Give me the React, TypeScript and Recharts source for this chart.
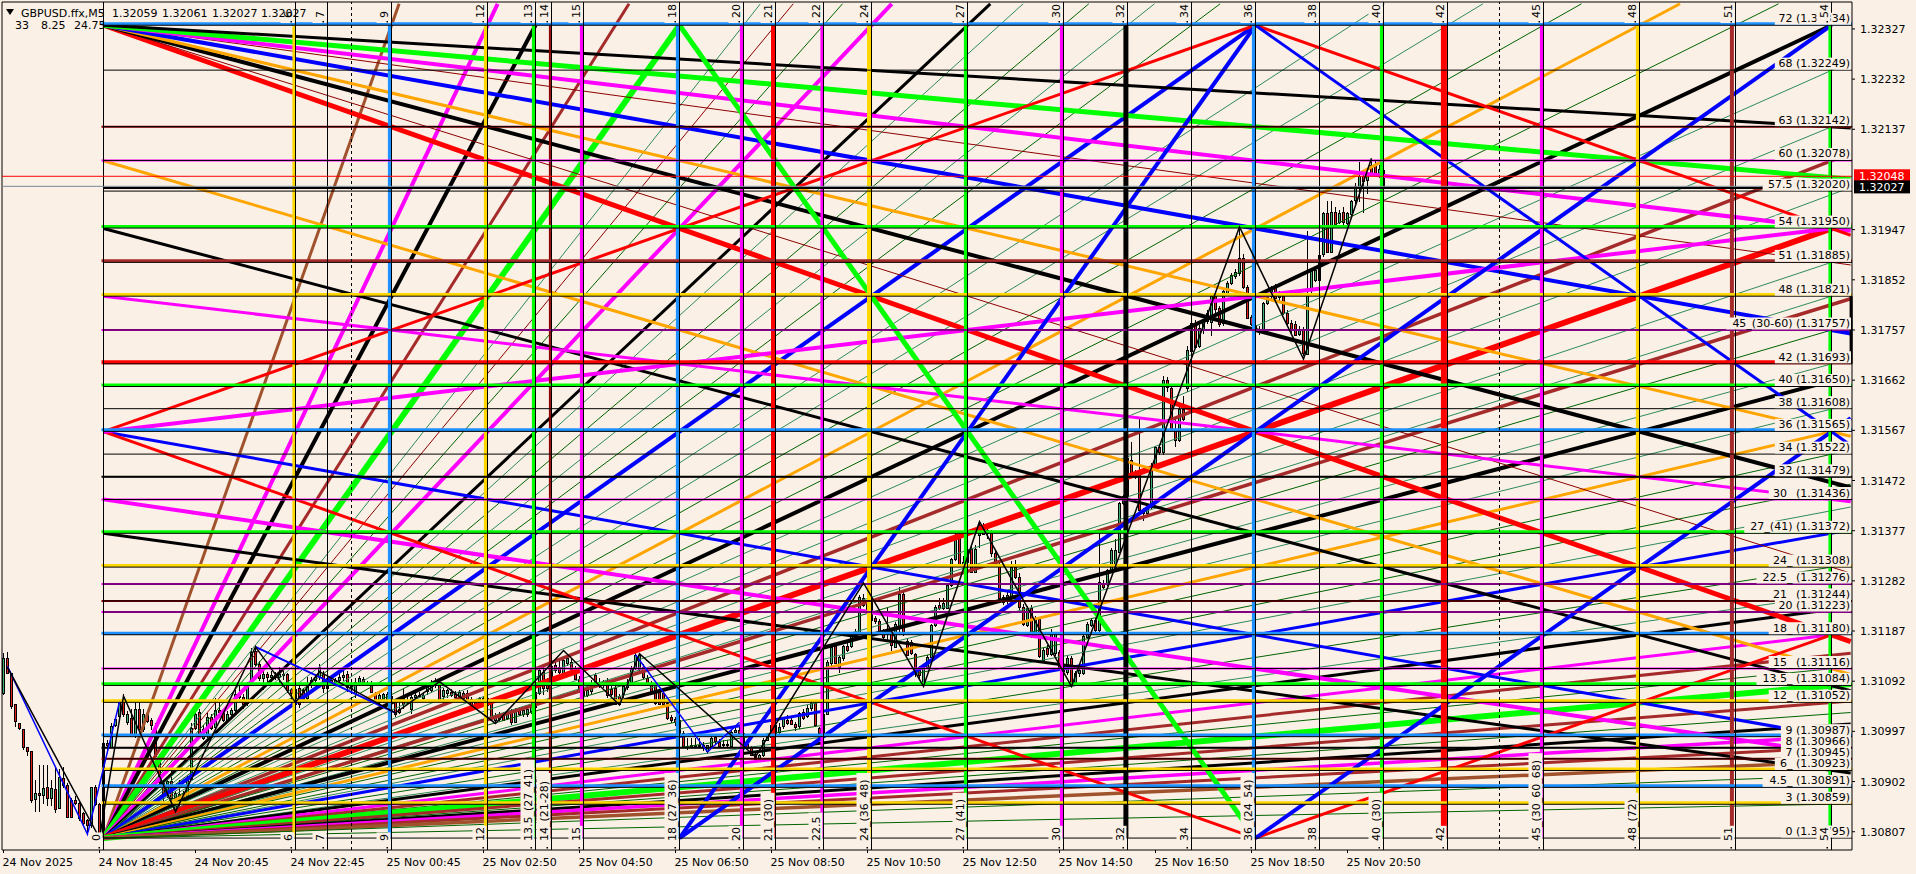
import React from 'react';
import { ComposedChart, Bar, Line, XAxis, YAxis, ReferenceLine } from 'recharts';

const FONT = '"DejaVu Sans", sans-serif';
const PAPER = '#FAF0E6';
const BLUE = '#0000FF';
const DODGER = '#1E90FF';
const LIME = '#00FF00';
const MAGENTA = '#FF00FF';
const GOLD = '#FFD700';
const ORANGE = '#FFA500';
const RED = '#FF0000';
const DARKRED = '#8B0000';
const BROWN = '#A52A2A';
const SIENNA = '#A0522D';
const GREEN = '#006400';
const SEA = '#2E8B57';
const BLACK = '#000000';

// prices below are stored as points above 1.30000
const timeLabels = ['24 Nov 2025', '24 Nov 18:45', '24 Nov 20:45', '24 Nov 22:45', '25 Nov 00:45', '25 Nov 02:50', '25 Nov 04:50', '25 Nov 06:50', '25 Nov 08:50', '25 Nov 10:50', '25 Nov 12:50', '25 Nov 14:50', '25 Nov 16:50', '25 Nov 18:50', '25 Nov 20:50'];
const timeTicks = [0, 24, 48, 72, 96, 120, 144, 168, 192, 216, 240, 264, 288, 312, 336];
const priceTicks = [2327, 2232, 2137, 1947, 1852, 1757, 1662, 1567, 1472, 1377, 1282, 1187, 1092, 997, 902, 807];

// [label, points, colour, width]
const levels: [string, number, string, number][] = [
  ['72 (1.32334)', 2334, DODGER, 3], ['68 (1.32249)', 2249, '', 0], ['63 (1.32142)', 2142, DARKRED, 2],
  ['60 (1.32078)', 2078, MAGENTA, 2], ['57.5 (1.32020)', 2020, '', 0], ['54 (1.31950)', 1950, LIME, 3],
  ['51 (1.31885)', 1885, BROWN, 3], ['48 (1.31821)', 1821, GOLD, 3], ['45_(30-60) (1.31757)', 1757, MAGENTA, 2],
  ['42 (1.31693)', 1693, RED, 4], ['40 (1.31650)', 1650, LIME, 3], ['38 (1.31608)', 1608, '', 0],
  ['36 (1.31565)', 1565, DODGER, 3], ['34 (1.31522)', 1522, '', 0], ['32 (1.31479)', 1479, BLACK, 2],
  ['30_ (1.31436)', 1436, MAGENTA, 2], ['27_(41) (1.31372)', 1372, LIME, 3], ['24_ (1.31308)', 1308, GOLD, 3],
  ['22.5_ (1.31276)', 1276, MAGENTA, 2], ['21_ (1.31244)', 1244, DARKRED, 2], ['20 (1.31223)', 1223, MAGENTA, 2],
  ['18_ (1.31180)', 1180, DODGER, 3], ['15_ (1.31116)', 1116, MAGENTA, 2], ['13.5_ (1.31084)', 1084, LIME, 3],
  ['12_ (1.31052)', 1052, GOLD, 3], ['9 (1.30987)', 987, DODGER, 3], ['8 (1.30966)', 966, BLACK, 2],
  ['7 (1.30945)', 945, DARKRED, 2], ['6_ (1.30923)', 923, GOLD, 3], ['4.5_ (1.30891)', 891, DODGER, 3],
  ['3 (1.30859)', 859, GOLD, 3], ['0 (1.30795)', 795, '', 0],
];

// [label, step, colour, width, shift in bars]
const columns: [string, number, string, number, number][] = [
  ['0', 0, '', 0, 0], ['6', 6, GOLD, 3, -0.4], ['7', 7, '', 0, 0], ['9', 9, DODGER, 4, -0.4], ['12', 12, GOLD, 4, -0.4],
  ['13.5_(27_41)', 13.5, LIME, 4, -0.4], ['14_(21-28)', 14, DARKRED, 2, -0.4], ['15', 15, MAGENTA, 4, -0.4], ['18_(27_36)', 18, DODGER, 4, -0.4],
  ['20', 20, MAGENTA, 4, -0.4], ['21_(30)', 21, RED, 5, -0.5], ['22.5', 22.5, MAGENTA, 3, -0.4], ['24_(36_48)', 24, GOLD, 5, -0.5],
  ['27_(41)', 27, LIME, 4, -0.4], ['30', 30, MAGENTA, 4, -0.4], ['32', 32, BLACK, 5, -0.4], ['34', 34, '', 0, 0],
  ['36_(24_54)', 36, DODGER, 4, -0.4], ['38', 38, '', 0, 0], ['40_(30)', 40, LIME, 4, -0.4], ['42', 42, RED, 6, -0.9],
  ['45_(30_60_68)', 45, MAGENTA, 4, -0.4], ['48_(72)', 48, GOLD, 4, -0.4], ['51', 51, BROWN, 4, -0.9], ['54', 54, LIME, 3, -0.4],
];
const dashedBars = [87, 374];
const stopAtTop = [13.5, 18, 36, 54];

// [from step, from level, to step, to level, colour, width]
const fanLines: [number, number, number, number, string, number][] = [
  // bottom left, steep side
  [0, 0, 9, 72, SIENNA, 3], [0, 0, 12, 72, MAGENTA, 4], [0, 0, 13.5, 72, BLACK, 4], [0, 0, 16, 72, BROWN, 3],
  [0, 0, 18, 72, LIME, 6], [0, 0, 20, 72, SEA, 1], [0, 0, 21, 72, DARKRED, 1], [0, 0, 22.5, 72, GREEN, 1],
  [0, 0, 24, 72, MAGENTA, 4], [0, 0, 27, 72, BLACK, 3], [0, 0, 28, 72, SEA, 1], [0, 0, 30, 72, GREEN, 1],
  [0, 0, 32, 72, SEA, 1], [0, 0, 34, 72, GREEN, 1], [0, 0, 36, 72, BLUE, 4], [0, 0, 39, 72, SEA, 1],
  [0, 0, 42, 72, SEA, 1], [0, 0, 45, 72, GREEN, 1], [0, 0, 48, 72, ORANGE, 3], [0, 0, 51, 72, GREEN, 1],
  [0, 0, 54, 72, BLACK, 4],
  // bottom left, flat side
  [0, 0, 54, 68, SEA, 1], [0, 0, 54, 63, SEA, 1], [0, 0, 54, 60, BROWN, 3.5], [0, 0, 54, 57, SEA, 1],
  [0, 0, 54, 54, RED, 6], [0, 0, 54, 51, SEA, 1], [0, 0, 54, 48, SEA, 1], [0, 0, 54, 47.25, BROWN, 3.5],
  [0, 0, 54, 45, GREEN, 1], [0, 0, 54, 42, SEA, 1], [0, 0, 54, 40.5, BLACK, 4], [0, 0, 54, 38, SEA, 1],
  [0, 0, 54, 36, ORANGE, 3], [0, 0, 54, 34, GREEN, 1], [0, 0, 54, 31, GREEN, 1], [0, 0, 54, 29, SEA, 1],
  [0, 0, 54, 27, BLUE, 3], [0, 0, 54, 24, GREEN, 1], [0, 0, 54, 21.5, SEA, 1], [0, 0, 54, 20.25, BLACK, 3],
  [0, 0, 54, 18, MAGENTA, 3], [0, 0, 54, 16.2, BROWN, 3], [0, 0, 54, 15, GREEN, 1], [0, 0, 54, 13.5, LIME, 6],
  [0, 0, 54, 12, BROWN, 3], [0, 0, 54, 11, GREEN, 1], [0, 0, 54, 10, BLACK, 3], [0, 0, 54, 9, MAGENTA, 3.5],
  [0, 0, 54, 8, BROWN, 3], [0, 0, 54, 6.75, SIENNA, 3.5], [0, 0, 54, 5.5, GREEN, 1], [0, 0, 54, 3, GREEN, 1],
  // top left
  [0, 72, 54, 18, RED, 5], [0, 72, 54, 24, DARKRED, 1], [0, 72, 54, 31.5, BLACK, 4], [0, 72, 54, 36, ORANGE, 3],
  [0, 72, 54, 45, BLUE, 4], [0, 72, 54, 51, DARKRED, 1], [0, 72, 54, 54, MAGENTA, 4], [0, 72, 54, 58.5, LIME, 5],
  [0, 72, 54, 63, BLACK, 3],
  // left edge starts
  [0, 60, 54, 15, ORANGE, 3], [0, 54, 54, 13.5, BLACK, 3], [0, 48, 54, 30, MAGENTA, 3],
  [0, 36, 54, 9, BLUE, 3], [0, 30, 54, 7.5, MAGENTA, 4], [0, 27, 54, 6, BLACK, 3],
  [0, 36, 36, 0, RED, 3], [0, 36, 36, 72, RED, 3], [0, 36, 54, 54, MAGENTA, 4],
  // the diamonds on the bottom and top edge
  [18, 0, 54, 72, BLUE, 4], [18, 0, 36, 72, BLUE, 4], [18, 72, 36, 0, LIME, 5],
  [36, 72, 54, 54, RED, 3], [36, 72, 54, 36, BLUE, 3], [36, 0, 54, 18, RED, 3], [36, 0, 54, 36, BLUE, 4],
];

// [open, high, low, close]
const candlesA = [
  [1070,1146,1065,1136],[1136,1147,1105,1108],[1108,1108,1040,1045],[1048,1048,1005,1015],[1012,1012,1000,1002],[1002,1002,962,967],[968,968,950,960],[960,960,862,867],
  [869,905,845,880],[880,934,845,876],[876,934,860,890],[892,934,855,872],[872,905,855,890],[888,930,843,850],[852,925,850,910],[908,930,890,895],
  [895,900,833,835],[867,870,833,835],[867,875,858,861],[861,865,828,833],[843,845,820,825],[829,832,805,820],[820,892,815,892],[892,895,855,860],
  [860,862,795,797],[797,975,795,975],[975,980,960,972],[968,1012,965,1008],[1008,1025,1005,1020],[1025,1055,1022,1052],[1055,1068,1025,1030],[1015,1035,1010,1030],
  [1022,1040,990,992],[992,1055,985,1040],[1040,1055,1000,1002],[1002,1040,995,1030],[1032,1036,1012,1017],[1018,1022,1000,1008],[1008,1012,950,952],[950,955,895,900],
  [900,905,855,880],[880,905,870,903],[903,930,865,870],[850,885,840,880],[862,905,845,878],[878,885,850,865],[872,912,868,908],[908,1012,905,1004],
  [1004,1035,1000,1030],[1034,1040,985,992],[985,1010,980,1002],[990,1032,985,1025],[1025,1030,1000,1005],[1005,1060,1000,1037],[1037,1055,1025,1034],[1035,1040,1015,1018],
  [1018,1035,1012,1030],[1030,1042,1022,1037],[1037,1075,1030,1068],[1070,1085,1058,1062],[1062,1068,1040,1048],[1050,1090,1045,1085],[1085,1155,1082,1148],[1150,1160,1120,1125],
  [1125,1130,1092,1098],[1098,1120,1075,1105],[1105,1110,1090,1100],[1100,1112,1090,1104],[1104,1110,1095,1100],[1100,1118,1085,1106],[1106,1112,1095,1104],[1105,1108,1070,1075],
  [1078,1080,1050,1070],[1050,1085,1042,1078],[1080,1085,1042,1050],[1075,1080,1050,1058],[1060,1100,1055,1088],[1088,1100,1080,1095],[1095,1105,1088,1100],[1100,1125,1095,1118],
  [1105,1112,1070,1078],[1080,1102,1065,1098],[1095,1100,1085,1092],[1092,1098,1085,1095],[1095,1112,1088,1100],[1100,1118,1092,1104],[1105,1112,1072,1080],[1084,1090,1070,1078],
  [1070,1098,1060,1090],[1088,1102,1082,1098],[1096,1100,1084,1088],[1088,1092,1082,1086],[1084,1092,1070,1070],[1070,1072,1052,1056],[1052,1072,1048,1066],[1056,1070,1050,1068],
  [1058,1072,1054,1068],[1064,1075,1042,1050],[1052,1055,1025,1030],[1040,1060,1030,1035],
];
const candlesB = [
  [1062,1080,1040,1048],[1056,1062,1048,1054],[1040,1065,1030,1063],[1062,1070,1056,1066],[1066,1072,1060,1064],[1060,1072,1055,1066],[1072,1085,1065,1082],[1075,1095,1070,1091],
  [1085,1098,1080,1091],[1088,1092,1052,1056],[1063,1080,1048,1075],[1069,1078,1060,1075],[1072,1078,1062,1066],[1068,1074,1060,1063],[1063,1076,1058,1072],[1060,1074,1056,1070],
  [1070,1075,1052,1057],[1058,1062,1042,1047],[1053,1058,1042,1047],[1048,1062,1042,1060],[1049,1064,1045,1061],[1060,1064,1044,1047],[1050,1052,1018,1022],[1019,1032,1014,1028],
  [1020,1034,1016,1030],[1028,1034,1016,1019],[1022,1036,1018,1030],[1034,1040,1010,1015],[1015,1042,1012,1037],[1039,1044,1026,1030],[1030,1040,1025,1037],[1030,1044,1024,1039],
  [1036,1050,1030,1047],[1044,1075,1040,1072],[1069,1118,1066,1113],[1110,1118,1065,1079],[1091,1098,1072,1079],[1094,1125,1090,1120],[1123,1130,1108,1113],[1118,1130,1105,1108],
  [1108,1135,1102,1132],[1126,1142,1120,1135],[1129,1135,1112,1116],[1114,1120,1095,1097],[1097,1102,1070,1075],[1066,1082,1058,1078],[1066,1082,1062,1075],[1072,1095,1068,1088],
  [1104,1108,1082,1088],[1085,1098,1080,1091],[1085,1095,1080,1091],[1091,1098,1060,1066],[1078,1082,1064,1069],[1080,1085,1048,1050],[1064,1068,1046,1049],[1066,1084,1060,1082],
  [1082,1096,1076,1091],[1091,1120,1086,1116],[1118,1146,1114,1142],[1116,1146,1110,1142],[1118,1124,1096,1100],[1099,1104,1082,1088],[1086,1092,1068,1072],[1082,1086,1046,1050],
  [1072,1078,1048,1050],[1070,1074,1048,1050],[1050,1052,1018,1022],[1024,1028,1012,1018],[1020,1024,1008,1014],[1018,1022,988,990],[993,998,965,968],[968,985,962,970],
  [970,984,966,972],[972,985,968,970],[970,984,966,972],[972,976,960,968],[959,972,955,971],[968,990,966,984],[986,990,974,979],[977,982,966,969],
  [972,980,968,973],[973,980,968,972],[969,1000,966,996],[996,1006,994,1000],[1000,1006,990,994],[994,998,965,968],[974,978,962,967],[967,970,950,952],
  [955,958,942,946],[946,955,940,952],[952,984,948,981],[981,992,978,987],[987,1012,984,1009],[1009,1014,990,993],[995,1012,990,1005],[1006,1024,1002,1022],
  [1018,1028,1010,1012],[1018,1024,1010,1011],[1011,1014,998,1006],[1006,1034,1002,1031],
];
const candlesC = [
  [1034,1040,1018,1022],[1026,1046,1022,1042],[1040,1056,1036,1050],[1051,1054,1006,1009],[1003,1006,988,994],[992,1034,990,1030],[1030,1132,1028,1129],[1126,1160,1120,1157],
  [1158,1165,1125,1126],[1119,1140,1108,1137],[1135,1160,1130,1158],[1158,1164,1148,1151],[1158,1180,1154,1177],[1176,1190,1172,1186],[1186,1256,1180,1252],[1250,1258,1232,1236],
  [1246,1250,1220,1224],[1242,1248,1205,1208],[1211,1216,1200,1205],[1206,1210,1180,1186],[1186,1190,1170,1177],[1182,1230,1168,1186],[1181,1186,1150,1160],[1158,1204,1154,1201],
  [1198,1270,1180,1258],[1258,1264,1178,1183],[1169,1172,1140,1143],[1166,1170,1142,1146],[1143,1146,1100,1107],[1113,1120,1096,1104],[1085,1122,1082,1119],[1119,1142,1115,1138],
  [1138,1200,1135,1198],[1198,1236,1194,1233],[1236,1250,1226,1230],[1230,1250,1226,1240],[1230,1278,1228,1274],[1274,1326,1270,1324],[1323,1374,1320,1369],[1369,1374,1310,1312],
  [1312,1330,1306,1318],[1318,1345,1314,1342],[1342,1350,1296,1299],[1299,1350,1296,1343],[1370,1396,1345,1388],[1381,1392,1368,1372],[1378,1385,1362,1372],[1372,1378,1328,1334],
  [1334,1340,1308,1312],[1312,1316,1244,1249],[1252,1256,1236,1243],[1243,1260,1238,1255],[1252,1320,1248,1309],[1308,1322,1286,1290],[1290,1296,1226,1233],[1233,1238,1196,1201],
  [1198,1235,1194,1230],[1230,1236,1174,1179],[1179,1215,1175,1211],[1209,1214,1136,1138],[1132,1155,1128,1151],[1154,1160,1138,1142],[1145,1190,1140,1186],[1145,1186,1140,1181],
  [1148,1152,1116,1120],[1120,1125,1105,1110],[1110,1142,1104,1136],[1136,1140,1084,1088],[1091,1112,1086,1108],[1107,1116,1100,1113],[1108,1180,1104,1178],[1176,1205,1172,1201],
  [1198,1212,1194,1208],[1208,1212,1186,1190],[1190,1378,1186,1280],[1278,1284,1266,1271],[1278,1305,1272,1302],[1300,1345,1296,1340],[1302,1362,1298,1340],[1337,1432,1334,1430],
  [1430,1445,1426,1443],[1444,1522,1440,1514],[1511,1545,1482,1485],[1488,1492,1474,1479],[1488,1590,1414,1416],[1416,1420,1395,1410],[1411,1425,1405,1422],[1422,1505,1418,1499],
  [1499,1538,1490,1535],[1535,1540,1520,1526],[1526,1670,1520,1662],[1662,1668,1640,1648],[1648,1652,1565,1568],[1569,1590,1536,1549],[1549,1612,1545,1608],[1608,1632,1585,1590],
];
const candlesD = [
  [1647,1726,1640,1719],[1718,1775,1714,1771],[1771,1776,1722,1726],[1726,1766,1722,1760],[1757,1776,1750,1773],[1773,1795,1768,1789],[1772,1825,1745,1822],[1822,1830,1790,1798],
  [1798,1802,1762,1767],[1769,1832,1764,1830],[1828,1850,1824,1846],[1846,1865,1842,1861],[1858,1872,1854,1866],[1864,1952,1860,1893],[1893,1900,1835,1838],[1838,1842,1778,1780],
  [1781,1786,1765,1767],[1767,1772,1726,1757],[1758,1764,1748,1756],[1759,1810,1755,1808],[1809,1822,1805,1820],[1820,1840,1815,1836],[1839,1845,1815,1819],[1820,1830,1812,1826],
  [1822,1826,1785,1789],[1789,1794,1765,1770],[1770,1775,1752,1756],[1769,1774,1745,1748],[1750,1764,1745,1757],[1758,1762,1708,1713],[1713,1945,1710,1824],[1833,1875,1826,1870],
  [1852,1875,1848,1870],[1852,1904,1848,1899],[1902,1980,1896,1979],[1979,2002,1904,1906],[1906,2002,1902,1981],[1981,1990,1955,1959],[1962,1984,1958,1979],[1981,1990,1955,1962],
  [1959,1980,1955,1978],[1978,2004,1972,2002],[2002,2035,1995,2029],[2029,2075,2000,2049],[2049,2052,1978,2040],[2042,2056,2014,2051],[2070,2080,2048,2051],[2070,2078,2048,2051],
  [2051,2070,2045,2061],[2059,2061,2027,2027],
];

const zigzagBlack = [
  { bar: 1, pts: 1118 }, { bar: 24, pts: 795 }, { bar: 30, pts: 1064 }, { bar: 43, pts: 845 }, { bar: 63, pts: 1157 },
  { bar: 73, pts: 1052 }, { bar: 79, pts: 1110 }, { bar: 98, pts: 1032 }, { bar: 109, pts: 1091 }, { bar: 123, pts: 1012 },
  { bar: 140, pts: 1150 }, { bar: 154, pts: 1047 }, { bar: 159, pts: 1144 }, { bar: 188, pts: 949 }, { bar: 215, pts: 1278 },
  { bar: 230, pts: 1082 }, { bar: 244, pts: 1394 }, { bar: 267, pts: 1082 }, { bar: 309, pts: 1952 }, { bar: 325, pts: 1702 },
  { bar: 342, pts: 2082 },
];
const zigzagBlueA = [{ bar: 1, pts: 1120 }, { bar: 21, pts: 802 }, { bar: 29, pts: 1053 }];
const zigzagBlueB = [{ bar: 63, pts: 1157 }, { bar: 98, pts: 1032 }];
const zigzagBlueC = [{ bar: 158, pts: 1142 }, { bar: 176, pts: 958 }, { bar: 184, pts: 1014 }];

const chartData = [...candlesA, ...candlesB, ...candlesC, ...candlesD].map((c, i) => ({
  bar: i, open: c[0], high: c[1], low: c[2], close: c[3], range: [c[2], c[1]],
}));

const X_MIN = -0.375;
const X_MAX = 462.125;
const Y_MIN = 772.4;
const Y_MAX = 2378;
const stepToBar = (n: number) => 25 + 8 * n;
const levelToPts = (l: number) => 795 + 21.375 * l;

const Candle = (props: any) => {
  const { x, y, width, height, payload } = props;
  const cx = Math.round(x + width / 2) + 0.5;
  const k = height / (payload.high - payload.low || 1);
  const top = Math.round(y + (payload.high - Math.max(payload.open, payload.close)) * k) + 0.5;
  const h = Math.max(Math.round(Math.abs(payload.open - payload.close) * k), 1);
  const up = payload.close >= payload.open;
  return (
    <g shapeRendering="crispEdges">
      <line x1={cx} x2={cx} y1={y} y2={y + height} stroke="#000" strokeWidth={1} />
      <rect x={cx - 1} y={top} width={2} height={h} fill={up ? '#3CB371' : '#E0201C'} stroke="#000" strokeWidth={1} />
    </g>
  );
};

const LevelTag = ({ viewBox, text }: any) => {
  const y = viewBox.y;
  const w = text.length * 6.1 + 2;
  return (
    <g>
      <rect x={1850 - w} y={y - 12.5} width={w + 1} height={12} fill={PAPER} />
      <text x={1850} y={y - 3} textAnchor="end" fontSize={11} fontFamily={FONT} fill="#000">{text}</text>
    </g>
  );
};

const StepTag = ({ viewBox, text, idx }: any) => {
  const bx = viewBox.x - 4;
  const len = text.length * 6.6 + 2;
  return (
    <g>
      {/* the foot shows the whole text, the frame leaves two characters of it at the top */}
      <rect x={bx - 11} y={841 - len} width={14} height={len + 1} fill={PAPER} />
      <text transform={`rotate(-90 ${bx} 841)`} x={bx} y={841} fontSize={11} fontFamily={FONT} fill="#000">{text}</text>
      <rect x={bx - 1} y={847} width={1.5} height={1.5} fill="#000" />
      {idx > 0 && (
        <g>
          <rect x={bx - 11} y={3} width={14} height={20} fill={PAPER} />
          <text transform={`rotate(-90 ${bx} 18)`} x={bx} y={18} fontSize={11} fontFamily={FONT} fill="#000">{text.slice(0, 2)}</text>
          <rect x={bx - 1} y={21} width={1.5} height={1.5} fill="#000" />
        </g>
      )}
    </g>
  );
};

const PriceBox = ({ viewBox, text, bg }: any) => (
  <g>
    <rect x={1854} y={viewBox.y - 7} width={56} height={13} fill={bg} />
    <text x={1859} y={viewBox.y + 4} fontSize={11} fontFamily={FONT} fill="#fff">{text}</text>
  </g>
);

const PriceTick = (props: any) => (
  <text x={1860} y={props.y + 4} fontSize={11} fontFamily={FONT} fill="#000">
    {(1.3 + props.payload.value / 100000).toFixed(5)}
  </text>
);

const TimeTick = (props: any) => (
  <text x={props.x - 1} y={866} fontSize={11} fontFamily={FONT} fill="#000">
    {timeLabels[props.index]}
  </text>
);

const titleItems: [string, number, number][] = [
  ['GBPUSD.ffx,M5', 21, 17], ['1.32059', 112, 17], ['1.32061', 162, 17], ['1.32027', 212, 17], ['1.32027', 261, 17],
  ['33', 15, 29], ['8.25', 41, 29], ['24.75', 74, 29],
];

export default function App() {
  return (
    <div style={{ position: 'absolute', left: 0, top: 0, width: 1916, height: 874, background: PAPER, overflow: 'hidden' }}>
      <ComposedChart width={1916} height={874} data={chartData} margin={{ top: 2, right: 0, bottom: 0, left: 2 }}>
        <XAxis
          type="number" dataKey="bar" domain={[X_MIN, X_MAX]} allowDataOverflow ticks={timeTicks} interval={0}
          height={24} tick={<TimeTick />} tickSize={3} stroke="#000"
        />
        <YAxis
          type="number" orientation="right" domain={[Y_MIN, Y_MAX]} allowDataOverflow ticks={priceTicks} interval={0}
          width={64} tick={<PriceTick />} tickSize={3} stroke="#000"
        />

        {/* frame */}
        <ReferenceLine x={X_MIN} stroke="#000" strokeWidth={1} />
        <ReferenceLine y={Y_MAX} stroke="#000" strokeWidth={1} />

        {/* gann fans */}
        {fanLines.map(([n0, l0, n1, l1, color, width], i) => {
          // lines aimed at the last column run on to the frame, and so do most steep ones
          let endN = n1;
          if (n1 === 54 && l1 < 72) endN = 54.6;
          if (n0 === 0 && l0 === 0 && l1 === 72 && !stopAtTop.includes(n1)) endN = (n1 * 73.9) / 72;
          const endL = l0 + ((l1 - l0) * (endN - n0)) / (n1 - n0);
          return (
            <ReferenceLine
              key={`fan-${i}`}
              segment={[{ x: stepToBar(n0), y: levelToPts(l0) }, { x: stepToBar(endN), y: levelToPts(endL) }]}
              stroke={color} strokeWidth={width}
            />
          );
        })}

        {/* coloured columns and rows */}
        {columns.filter((c) => c[2]).map((c) => (
          <ReferenceLine
            key={`col-${c[1]}`}
            segment={[{ x: stepToBar(c[1]) + c[4], y: 795 }, { x: stepToBar(c[1]) + c[4], y: 2334 }]}
            stroke={c[2]} strokeWidth={c[3]}
          />
        ))}
        {levels.filter((l) => l[2]).map((l) => {
          const lift = l[3] >= 3 ? 3 : 0;
          return (
            <ReferenceLine
              key={`row-${l[1]}`}
              segment={[{ x: 24.5, y: l[1] + lift }, { x: X_MAX, y: l[1] + lift }]}
              stroke={l[2]} strokeWidth={l[3]}
            />
          );
        })}

        {/* thin black grid of the box */}
        {columns.map((c) => (
          <ReferenceLine key={`colb-${c[1]}`} x={stepToBar(c[1])} stroke="#000" strokeWidth={1} />
        ))}
        {levels.map((l) => (
          <ReferenceLine key={`rowb-${l[1]}`} segment={[{ x: 25, y: l[1] }, { x: X_MAX, y: l[1] }]} stroke="#000" strokeWidth={1} />
        ))}
        {dashedBars.map((b) => (
          <ReferenceLine key={`dash-${b}`} x={b} stroke="#000" strokeWidth={1} strokeDasharray="3 3" />
        ))}
        <ReferenceLine segment={[{ x: 461.9, y: 1693 }, { x: 461.9, y: 1821 }]} stroke="#000" strokeWidth={3} />

        {/* bid and ask */}
        <ReferenceLine segment={[{ x: 25, y: 2026 }, { x: 440, y: 2026 }]} stroke="#000" strokeWidth={2} />
        <ReferenceLine y={2048} stroke={RED} strokeWidth={1} />
        <ReferenceLine y={2029} stroke="#778899" strokeWidth={1} />

        <Bar dataKey="range" barSize={3} isAnimationActive={false} shape={(p: any) => <Candle {...p} />} />

        <Line data={zigzagBlueA} dataKey="pts" stroke={BLUE} strokeWidth={1.5} dot={false} isAnimationActive={false} />
        <Line data={zigzagBlueB} dataKey="pts" stroke={BLUE} strokeWidth={2} dot={false} isAnimationActive={false} />
        <Line data={zigzagBlueC} dataKey="pts" stroke={BLUE} strokeWidth={1.5} dot={false} isAnimationActive={false} />
        <Line data={zigzagBlack} dataKey="pts" stroke="#000" strokeWidth={1.5} dot={false} isAnimationActive={false} />

        {/* tags sit on top of every line */}
        {levels.map((l) => (
          <ReferenceLine key={`tag-${l[1]}`} y={l[1]} stroke="none" label={<LevelTag text={l[0]} />} />
        ))}
        {columns.map((c, i) => (
          <ReferenceLine key={`stag-${c[1]}`} x={stepToBar(c[1])} stroke="none" label={<StepTag text={c[0]} idx={i} />} />
        ))}
        <ReferenceLine y={2048} stroke="none" label={<PriceBox text="1.32048" bg="#FF0000" />} />
        <ReferenceLine y={2027} stroke="none" label={<PriceBox text="1.32027" bg="#000000" />} />
      </ComposedChart>

      {/* symbol header */}
      <svg width={340} height={34} style={{ position: 'absolute', left: 0, top: 0 }}>
        <path d="M6 9 L14 9 L10 15 Z" fill="#000" />
        {titleItems.map(([t, x, y], i) => (
          <text key={i} x={x} y={y} fontSize={11} fontFamily={FONT} fill="#000">{t}</text>
        ))}
      </svg>
    </div>
  );
}
